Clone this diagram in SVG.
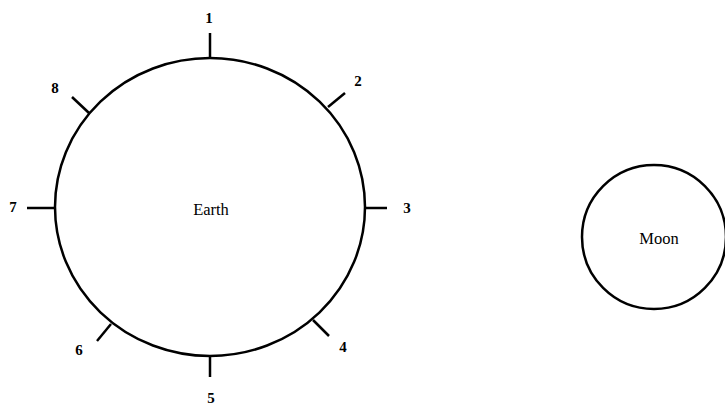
<svg xmlns="http://www.w3.org/2000/svg" width="725" height="405" viewBox="0 0 725 405">
<style>
.body{fill:#fff;stroke:#000;stroke-width:2.5}
.tick{stroke:#000;stroke-width:2.5;fill:none}
.num{font-family:"Liberation Serif",serif;font-weight:bold;font-size:15px;text-anchor:middle;fill:#000}
.lbl{font-family:"Liberation Serif",serif;font-size:16.5px;text-anchor:middle;fill:#000}
</style>
<rect width="725" height="405" fill="#fff"/>
<g id="earth">
<ellipse class="body" cx="210" cy="207" rx="155" ry="149"/>
<text class="lbl" x="211" y="215">Earth</text>
</g>
<g id="moon">
<circle class="body" cx="654" cy="237" r="72"/>
<text class="lbl" x="659" y="244">Moon</text>
</g>
<g id="connectors">
<line class="tick" x1="210" y1="58" x2="210" y2="33"/>
<line class="tick" x1="328" y1="107" x2="345" y2="93"/>
<line class="tick" x1="365" y1="208" x2="387" y2="208"/>
<line class="tick" x1="313" y1="320" x2="329" y2="336"/>
<line class="tick" x1="210" y1="356" x2="210" y2="377"/>
<line class="tick" x1="111" y1="324" x2="97" y2="341"/>
<line class="tick" x1="55" y1="208" x2="27" y2="208"/>
<line class="tick" x1="89" y1="113" x2="72" y2="97"/>
</g>
<g id="labels">
<text class="num" x="209" y="23">1</text>
<text class="num" x="358" y="86">2</text>
<text class="num" x="407" y="213">3</text>
<text class="num" x="343" y="352">4</text>
<text class="num" x="211" y="403">5</text>
<text class="num" x="79" y="355">6</text>
<text class="num" x="13" y="212">7</text>
<text class="num" x="55" y="93">8</text>
</g>
</svg>
